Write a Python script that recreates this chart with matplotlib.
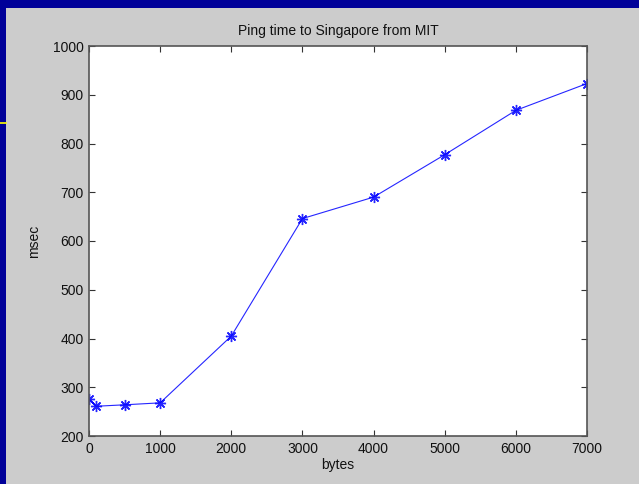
import matplotlib
matplotlib.use("Agg")
import matplotlib.pyplot as plt
from matplotlib.patches import Rectangle
from matplotlib.lines import Line2D

bytes_ = [0, 100, 500, 1000, 2000, 3000, 4000, 5000, 6000, 7000]
msec = [276, 261, 264, 268, 405, 646, 690, 777, 868, 923]
xticks = [0, 1000, 2000, 3000, 4000, 5000, 6000, 7000]
yticks = [200, 300, 400, 500, 600, 700, 800, 900, 1000]

W, H = 639, 484
plt.rcParams['font.family'] = ['Liberation Sans', 'DejaVu Sans']
fig = plt.figure(figsize=(W/100, H/100), dpi=100, facecolor='#cccccc')

# frame decorations
fig.add_artist(Rectangle((0, 1 - 8/H), 1, 8/H, transform=fig.transFigure,
                         facecolor='#000099', edgecolor='none'))
fig.add_artist(Rectangle((0, 0), 6/W, 1, transform=fig.transFigure,
                         facecolor='#000099', edgecolor='none'))
fig.add_artist(Line2D([0, 6/W], [1 - 123/H, 1 - 123/H], transform=fig.transFigure,
                      color='#ffff00', linewidth=1.2))

ax = fig.add_axes([89/W, 1 - 436/H, (587-89)/W, (436-46)/H])
ax.set_facecolor('white')
ax.plot(bytes_, msec, color='#0000ff', linewidth=0.8, marker=(8, 2, 0),
        markersize=8, markeredgewidth=1.0, alpha=0.85)
ax.set_xlim(0, 7000)
ax.set_ylim(200, 1000)
ax.set_xticks(xticks)
ax.set_yticks(yticks)
ax.tick_params(direction='in', top=True, right=True, length=4, width=0.8,
               color='#333333', labelsize=10, labelcolor='#111111', pad=4)
for s in ax.spines.values():
    s.set_color('#555555')
    s.set_linewidth(1.2)
ax.set_title('Ping time to Singapore from MIT', fontsize=10, color='#111111', pad=8)
ax.set_xlabel('bytes', fontsize=10, color='#111111', labelpad=2)
ax.set_ylabel('msec', fontsize=10, color='#111111', labelpad=8)

fig.savefig('out.png', dpi=100, facecolor=fig.get_facecolor())
